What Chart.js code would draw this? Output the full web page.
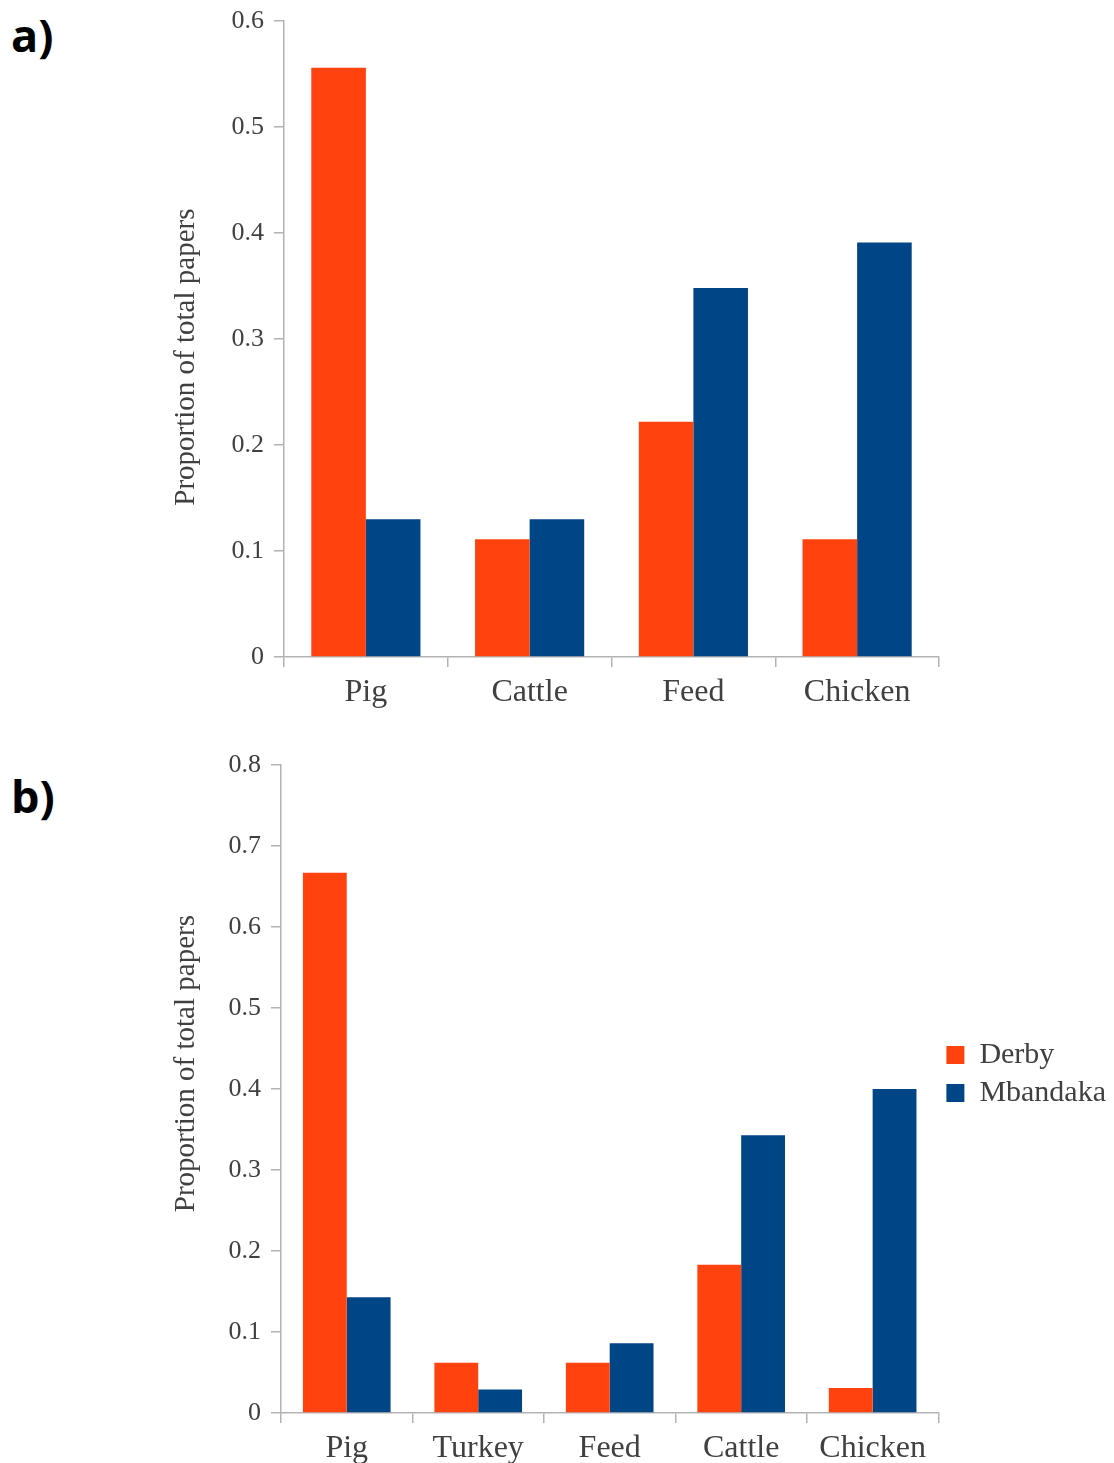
<!DOCTYPE html>
<html>
<head>
<meta charset="utf-8">
<script src="https://cdn.jsdelivr.net/npm/chart.js@4.4.0/dist/chart.umd.min.js"></script>
<style>
  html, body { margin: 0; padding: 0; background: #fff; }
  body { width: 1114px; height: 1463px; position: relative; overflow: hidden; }
  .panel-tag {
    position: absolute;
    font-family: "Open Sans", "DejaVu Sans", sans-serif;
    font-weight: 700;
    font-size: 45px;
    line-height: 1;
    color: #000;
  }
  #boxA { position: absolute; left: 0; top: -5px; }
  #boxB { position: absolute; left: 0; top: 730px; }
</style>
</head>
<body>
<div class="panel-tag" style="left:11px; top:12px;">a)</div>
<div class="panel-tag" style="left:11px; top:773px;">b)</div>
<div id="boxA"><canvas id="chartA" width="1114" height="735"></canvas></div>
<div id="boxB"><canvas id="chartB" width="1126" height="733"></canvas></div>
<script>
// Series
const seriesNames = ['Derby', 'Mbandaka'];
const seriesColors = ['#ff420e', '#004586'];

// Panel a) — four sources
const categoriesA = ['Pig', 'Cattle', 'Feed', 'Chicken'];
const derbyA = [0.556, 0.111, 0.222, 0.111];
const mbandakaA = [0.130, 0.130, 0.348, 0.391];
const yMaxA = 0.6;

// Panel b) — five sources
const categoriesB = ['Pig', 'Turkey', 'Feed', 'Cattle', 'Chicken'];
const derbyB = [0.667, 0.062, 0.062, 0.183, 0.031];
const mbandakaB = [0.143, 0.029, 0.086, 0.343, 0.400];
const yMaxB = 0.8;

const yStep = 0.1;
const yTitle = 'Proportion of total papers';

const textColor = '#404040';
const axisColor = '#b3b3b3';
const serif = '"Liberation Serif", "Times New Roman", serif';

function datasets(derby, mbandaka) {
  return [derby, mbandaka].map((values, i) => ({
    label: seriesNames[i],
    data: values,
    backgroundColor: seriesColors[i],
    borderWidth: 0,
    categoryPercentage: 2 / 3,
    barPercentage: 1.0
  }));
}

function buildOptions(cfg) {
  return {
    responsive: false,
    animation: false,
    layout: { padding: cfg.padding },
    plugins: {
      tooltip: { enabled: false },
      legend: cfg.legend ? {
        display: true,
        position: 'right',
        align: 'start',
        // empty title used only as a spacer above the legend items
        title: { display: true, text: '', font: { size: 1, lineHeight: 1 }, padding: { top: cfg.legendDrop, bottom: 0 } },
        labels: {
          boxWidth: 18,
          boxHeight: 18,
          padding: 8,
          color: textColor,
          font: { family: serif, size: 30 }
        }
      } : { display: false }
    },
    scales: {
      x: {
        offset: true,
        afterFit: s => { s.height = cfg.xHeight; },
        grid: {
          offset: true,
          drawOnChartArea: false,
          drawTicks: true,
          tickLength: 10,
          color: axisColor,
          lineWidth: 1.5
        },
        border: { display: true, color: axisColor, width: 1.5 },
        ticks: {
          color: textColor,
          font: { family: serif, size: 32 },
          padding: 6,
          maxRotation: 0,
          autoSkip: false
        }
      },
      y: {
        min: 0,
        max: cfg.yMax,
        afterFit: s => { s.width = cfg.yWidth; },
        grid: {
          drawOnChartArea: false,
          drawTicks: true,
          tickLength: 10,
          color: axisColor,
          lineWidth: 1.5
        },
        border: { display: true, color: axisColor, width: 1.5 },
        ticks: {
          stepSize: yStep,
          color: textColor,
          font: { family: serif, size: 26 },
          padding: 10
        },
        title: {
          display: true,
          text: cfg.title,
          color: textColor,
          font: { family: serif, size: 29 },
          padding: { top: cfg.titleX, bottom: 0 }
        }
      }
    }
  };
}

new Chart(document.getElementById('chartA'), {
  type: 'bar',
  data: { labels: categoriesA, datasets: datasets(derbyA, mbandakaA) },
  options: buildOptions({
    yMax: yMaxA, yWidth: 284, xHeight: 73,
    padding: { top: 26, right: 175, bottom: 0, left: 0 },
    legend: false,
    titleX: 169,
    // trailing spaces nudge the rotated title towards the axis origin
    title: yTitle + '     '
  })
});

new Chart(document.getElementById('chartB'), {
  type: 'bar',
  data: { labels: categoriesB, datasets: datasets(derbyB, mbandakaB) },
  options: buildOptions({
    yMax: yMaxB, yWidth: 281, xHeight: 50,
    padding: { top: 35, right: 10, bottom: 0, left: 0 },
    legend: true,
    legendDrop: 266,
    titleX: 169,
    // leading spaces nudge the rotated title towards the top
    title: '       ' + yTitle
  })
});
</script>
</body>
</html>
